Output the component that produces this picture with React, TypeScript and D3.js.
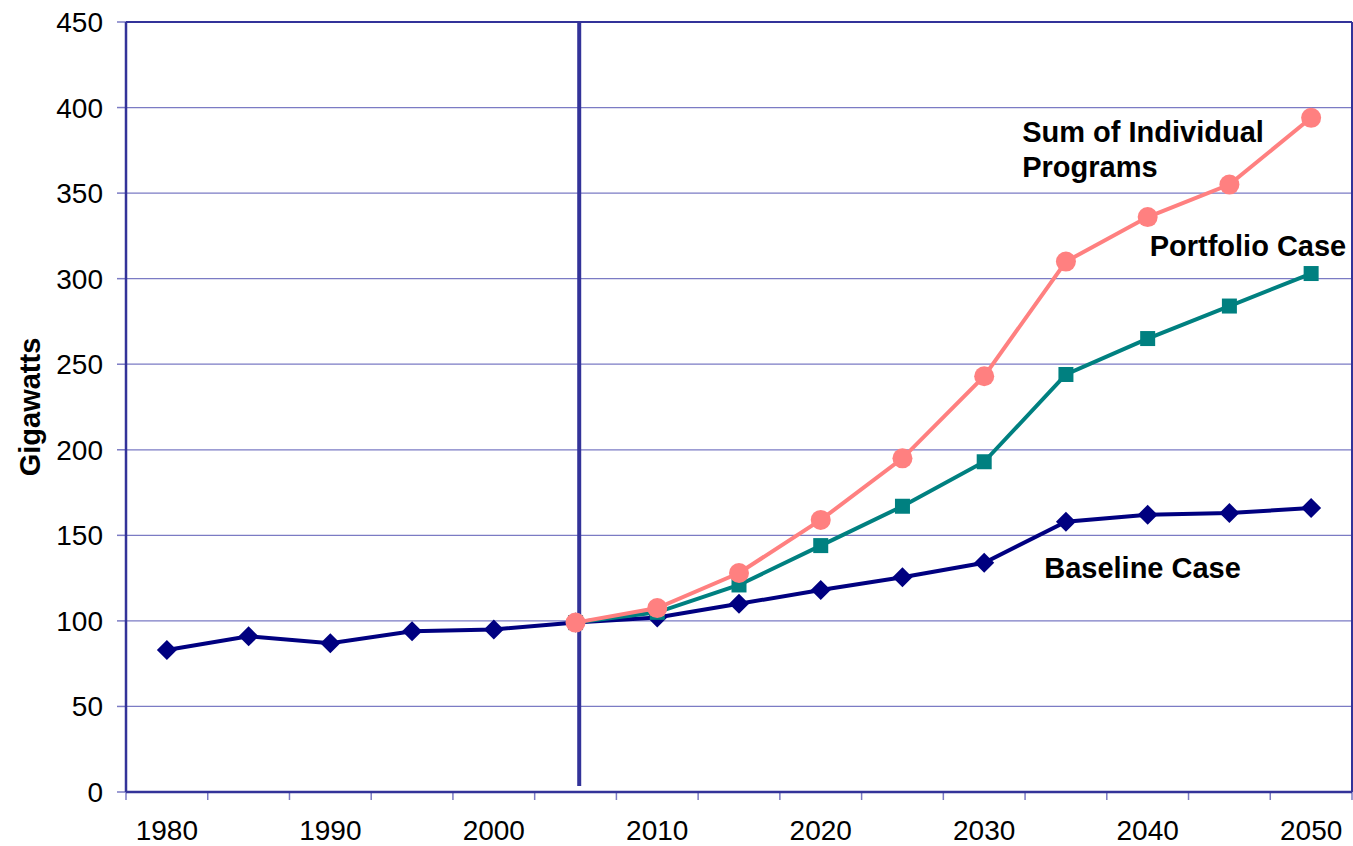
import React from "react";
import * as d3 from "d3";

const years = ["1980","1985","1990","1995","2000","2005","2010","2015","2020","2025","2030","2035","2040","2045","2050"];
const xLabels = ["1980","1990","2000","2010","2020","2030","2040","2050"];
const yTicks = [0,50,100,150,200,250,300,350,400,450];

const baseline = [83,91,87,94,95,99,102,110,118,125.5,134,158,162,163,166];
const portfolio = [null,null,null,null,null,99,105,121,144,167,193,244,265,284,303];
const sumPrograms = [null,null,null,null,null,99,107.5,128,159,195,243,310,336,355,394];

const W = 1353, H = 846;
const M = { left: 126, right: 1352, top: 22, bottom: 792 };

export default function App() {
  const x = d3.scaleBand<string>().domain(years).range([M.left, M.right]);
  const y = d3.scaleLinear().domain([0, 450]).range([M.bottom, M.top]);
  const cx = (yr: string) => (x(yr) as number) + x.bandwidth() / 2;

  const mk = (vals: (number | null)[]) =>
    years.map((yr, i) => ({ yr, v: vals[i] })).filter((d) => d.v !== null) as { yr: string; v: number }[];

  const line = d3.line<{ yr: string; v: number }>().x((d) => cx(d.yr)).y((d) => y(d.v));

  const base = mk(baseline), port = mk(portfolio), sum = mk(sumPrograms);
  const boundaries = years.map((yr) => x(yr) as number).concat([M.right]);
  const font = "Arial, 'Liberation Sans', sans-serif";
  const grid = "#7b7bc4";
  const axis = "#333399";
  const vx = cx("2005") + x.bandwidth() * 0.045;

  return (
    <svg width={W} height={H} style={{ position: "absolute", left: 0, top: 0, background: "#fff" }} fontFamily={font}>
      {/* gridlines */}
      {yTicks.filter((t) => t > 0 && t < 450).map((t) => (
        <line key={t} x1={M.left} x2={M.right} y1={y(t)} y2={y(t)} stroke={grid} strokeWidth={1.3} />
      ))}
      {/* border top/right */}
      <line x1={M.left} x2={M.right} y1={y(450)} y2={y(450)} stroke={axis} strokeWidth={2} />
      <line x1={M.right} x2={M.right} y1={M.top} y2={M.bottom} stroke={axis} strokeWidth={2} />
      {/* y ticks */}
      {yTicks.map((t) => (
        <g key={"yt" + t}>
          <line x1={M.left - 9} x2={M.left} y1={y(t)} y2={y(t)} stroke={grid} strokeWidth={1.5} />
          <text x={103} y={y(t) + 10} textAnchor="end" fontSize={28} fill="#000">{t}</text>
        </g>
      ))}
      {/* x ticks */}
      {boundaries.map((b, i) => (
        <line key={"xt" + i} x1={b} x2={b} y1={M.bottom} y2={M.bottom + 8} stroke={grid} strokeWidth={1.5} />
      ))}
      {xLabels.map((l) => (
        <text key={l} x={cx(l)} y={840} textAnchor="middle" fontSize={28} fill="#000">{l}</text>
      ))}
      {/* axes */}
      <line x1={M.left} x2={M.left} y1={M.top} y2={M.bottom} stroke={axis} strokeWidth={2.5} />
      <line x1={M.left} x2={M.right} y1={M.bottom} y2={M.bottom} stroke={axis} strokeWidth={2.5} />
      {/* vertical divider */}
      <line x1={vx} x2={vx} y1={M.top} y2={786} stroke={axis} strokeWidth={4} />
      {/* y label */}
      <text transform={`translate(40,${(M.top + M.bottom) / 2}) rotate(-90)`} textAnchor="middle" fontSize={29} fontWeight="bold">Gigawatts</text>

      {/* baseline */}
      <path d={line(base) || ""} fill="none" stroke="#000080" strokeWidth={4} />
      {base.map((d) => (
        <path key={"b" + d.yr} d="M0,-10L10,0L0,10L-10,0Z" transform={`translate(${cx(d.yr)},${y(d.v)})`} fill="#000080" />
      ))}
      {/* portfolio */}
      <path d={line(port) || ""} fill="none" stroke="#008080" strokeWidth={4} />
      {port.map((d) => (
        <rect key={"p" + d.yr} x={cx(d.yr) - 7.5} y={y(d.v) - 7.5} width={15} height={15} fill="#008080" />
      ))}
      {/* sum */}
      <path d={line(sum) || ""} fill="none" stroke="#FF8080" strokeWidth={4} />
      {sum.map((d) => (
        <circle key={"s" + d.yr} cx={cx(d.yr)} cy={y(d.v)} r={10} fill="#FF8080" />
      ))}

      {/* annotations */}
      <text x={cx("2030") + 38} y={y(380)} fontSize={29} fontWeight="bold">Sum of Individual</text>
      <text x={cx("2030") + 38} y={y(359.5)} fontSize={29} fontWeight="bold">Programs</text>
      <text x={cx("2040") + 2} y={y(313)} fontSize={29} fontWeight="bold">Portfolio Case</text>
      <text x={cx("2030") + 60} y={y(125)} fontSize={29} fontWeight="bold">Baseline Case</text>
    </svg>
  );
}
